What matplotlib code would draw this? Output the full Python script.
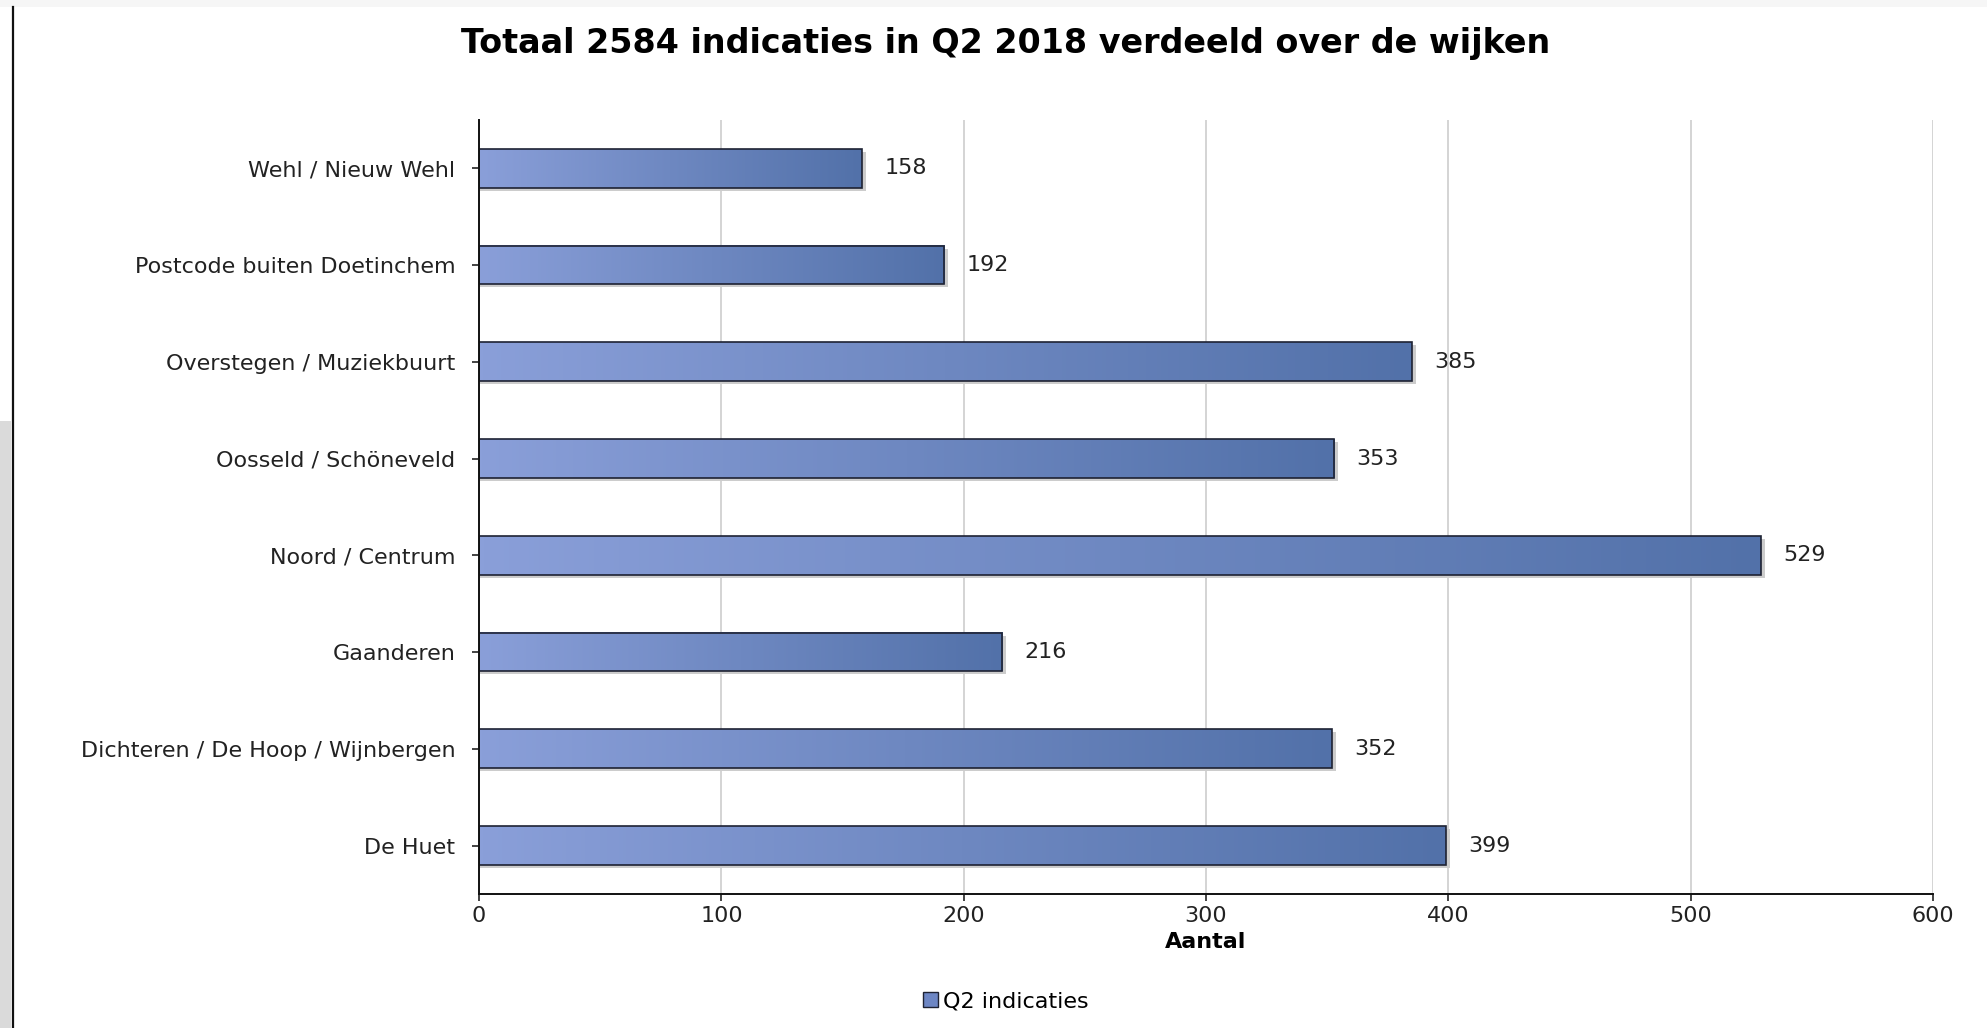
import numpy as np
import matplotlib
matplotlib.use("Agg")
from matplotlib import pyplot as plt
from matplotlib.colors import LinearSegmentedColormap
from matplotlib.patches import Rectangle
from matplotlib.lines import Line2D

plt.rcParams['font.family'] = ['DejaVu Sans']

wijken = ['De Huet', 'Dichteren / De Hoop / Wijnbergen', 'Gaanderen',
          'Noord / Centrum', 'Oosseld / Schöneveld', 'Overstegen / Muziekbuurt',
          'Postcode buiten Doetinchem', 'Wehl / Nieuw Wehl']
indicaties = [399, 352, 216, 529, 353, 385, 192, 158]
xticks = [0, 100, 200, 300, 400, 500, 600]

fig = plt.figure(figsize=(19.87, 10.28), dpi=100)
ax = fig.add_axes([0.2411, 0.1304, 0.7317, 0.7529])

cmap = LinearSegmentedColormap.from_list('bar', ['#8a9fd9', '#5271a9'])
grad = np.linspace(0, 1, 256).reshape(1, -1)
h = 0.4

ax.set_xlim(0, 600)
ax.set_ylim(-0.5, len(wijken) - 0.5)

for i, v in enumerate(indicaties):
    # soft shadow under the bar
    ax.add_patch(Rectangle((0, i - h / 2 - 0.03), v + 1.5, h, facecolor='#cccccc',
                           edgecolor='none', zorder=2))
    ax.imshow(grad, cmap=cmap, aspect='auto', extent=[0, v, i - h / 2, i + h / 2],
              zorder=3)
    ax.add_patch(Rectangle((0, i - h / 2), v, h, facecolor='none',
                           edgecolor='#1e2233', linewidth=1.2, zorder=4))
    ax.annotate(str(v), (v, i), xytext=(16, 0), textcoords='offset points',
                va='center', ha='left', fontsize=16, color='#222222')

ax.set_xlim(0, 600)
ax.set_ylim(-0.5, len(wijken) - 0.5)
ax.set_xticks(xticks)
ax.set_yticks(range(len(wijken)))
ax.set_yticklabels(wijken)
ax.tick_params(axis='both', labelsize=16, colors='#222222', direction='out',
               length=5, width=1.2)
ax.tick_params(axis='y', pad=12)
ax.tick_params(axis='x', pad=4)
ax.grid(axis='x', color='#d4d4d4', linewidth=1.4, zorder=0)
ax.set_axisbelow(True)
for s in ['top', 'right']:
    ax.spines[s].set_visible(False)
for s in ['left', 'bottom']:
    ax.spines[s].set_color('#111111')
    ax.spines[s].set_linewidth(1.4)
    ax.spines[s].set_zorder(5)

ax.set_xlabel('Aantal', fontsize=16, fontweight='bold', labelpad=4)
fig.text(0.506, 0.958, 'Totaal 2584 indicaties in Q2 2018 verdeeld over de wijken',
         ha='center', va='center', fontsize=24, fontweight='bold')

# legend
fig.legend([Rectangle((0, 0), 1, 1, facecolor='#6d86c4', edgecolor='#1e2233')],
           ['Q2 indicaties'], loc='center', bbox_to_anchor=(0.506, 0.026),
           frameon=False, fontsize=16, handlelength=0.7, handleheight=0.7,
           handletextpad=0.2, borderpad=0)

# page frame bits
fig.patches.append(Rectangle((0, 0.993), 1, 0.007, transform=fig.transFigure,
                             facecolor='#f6f6f6', edgecolor='none'))
fig.patches.append(Rectangle((0, 0), 0.0055, 0.59, transform=fig.transFigure,
                             facecolor='#dadada', edgecolor='none'))
fig.lines.append(Line2D([0.0065, 0.0065], [0, 0.993], transform=fig.transFigure,
                        color='#111111', linewidth=1.6))

fig.savefig('out.png', dpi=100)
